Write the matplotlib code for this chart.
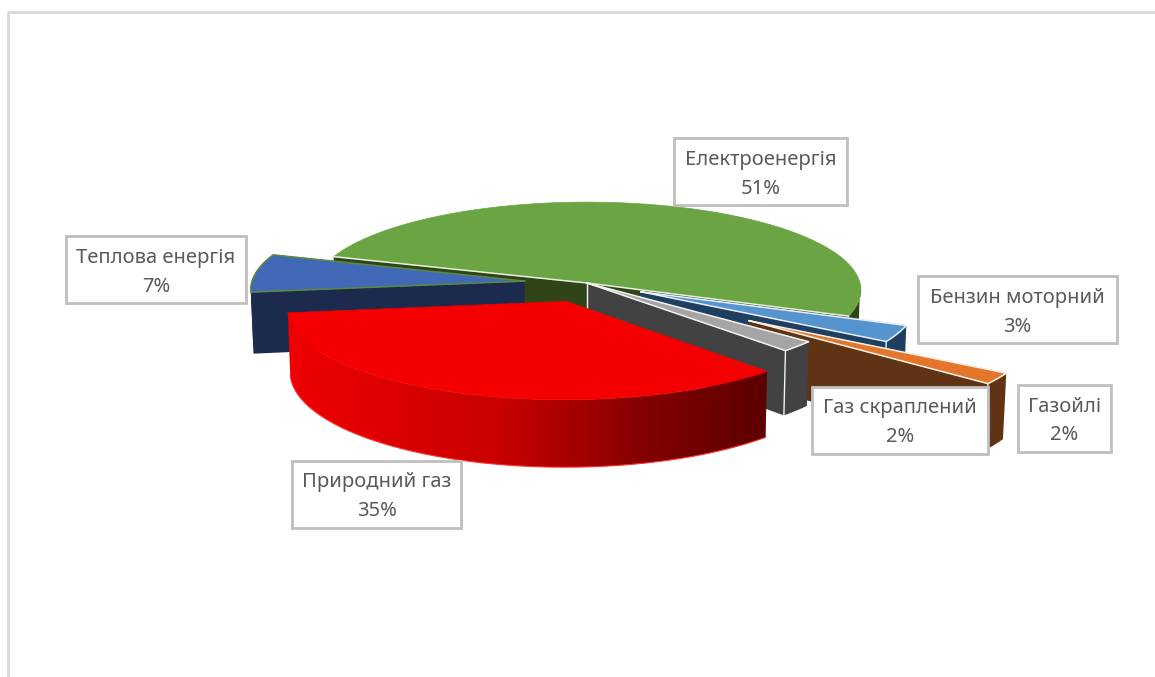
import numpy as np
import matplotlib
matplotlib.use("Agg")
import matplotlib.pyplot as plt
from matplotlib.colors import LinearSegmentedColormap
from matplotlib.patches import Polygon, Rectangle

# energy consumption shares, clockwise from the left of the pie
categories = ["Електроенергія", "Бензин моторний", "Газойлі", "Газ скраплений", "Природний газ", "Теплова енергія"]
shares = [51, 3, 2, 2, 35, 7]

# how far each slice is pulled out of the pie, as a fraction of the radius
explode = [0.0, 0.22, 0.71, 0.0, 0.22, 0.23]

top_colors = ["#6BA543", "#5594CE", "#E3762B", "#A5A5A5", "#F50000", "#4169B8"]
wall_colors = ["#2F4518", "#1F3F60", "#5F3314", "#424242", "#E00000", "#1B2A4D"]
edge_colors = ["#E8EDE2", "#E8EEF5", "#F5F0E8", "#F2F2F2", None, "#5B8A3C"]

# painter's order, the natural gas slice sits in front of everything
layer = [0, 2, 3, 4, 5, 1]

# boxes are x0, y0, x1, y1 in pixels
label_boxes = [(674, 138, 847, 205), (918, 276, 1117, 343), (1018, 385, 1111, 452),
               (812, 387, 988, 454), (292, 461, 461, 528), (66, 236, 246, 303)]

CX, CY = 587, 283
R = 273
TILT = 0.32
PERSP = 0.08
DEPTH = 61
START = 162

plt.rcParams["font.family"] = "Noto Sans"

red_map = LinearSegmentedColormap.from_list(
    "red_wall", [(0, "#EE0000"), (0.45, "#C80000"), (0.75, "#820000"), (1, "#5C0000")])


def project(x, y, z=0.0):
    s = 1 / (1 + PERSP * y / R)
    return CX + x * s * (1 - 0.00013 * z), CY - y * TILT * s + z * s


fig = plt.figure(figsize=(11.55, 6.77), dpi=100)
ax = fig.add_axes([0, 0, 1, 1])

# chart area border, only top and left are in frame
ax.plot([8, 8, 1155], [677, 12, 12], color="#D9D9D9", lw=2)

angle = START
for i, share in enumerate(shares):
    th1 = angle
    th2 = angle - share * 3.6
    angle = th2
    z = 2 + layer[i]

    mid = np.radians((th1 + th2) / 2)
    ox = explode[i] * R * np.cos(mid)
    oy = explode[i] * R * np.sin(mid)
    thetas = np.radians(np.linspace(th1, th2, 200))
    xs = ox + R * np.cos(thetas)
    ys = oy + R * np.sin(thetas)
    edge = edge_colors[i]

    # flat cut faces that look towards the viewer
    for th, normal in ((th1, th1 + 90), (th2, th2 - 90)):
        if np.sin(np.radians(normal)) < 0:
            ex = ox + R * np.cos(np.radians(th))
            ey = oy + R * np.sin(np.radians(th))
            pts = [project(ox, oy), project(ex, ey), project(ex, ey, DEPTH), project(ox, oy, DEPTH)]
            ax.add_patch(Polygon(pts, closed=True, fc=wall_colors[i], ec="none", zorder=z))

    # outer rim, only the front half shows
    front = np.sin(thetas) <= 0
    upper = [project(x, y) for x, y in zip(xs[front], ys[front])]
    lower = [project(x, y, DEPTH) for x, y in zip(xs[front], ys[front])]
    rim = upper + lower[::-1]
    if i == 4:
        # gas wall darkens from left to right
        rim_patch = Polygon(rim, closed=True, fc="none", ec="none", transform=ax.transData)
        ax.add_patch(rim_patch)
        px = [p[0] for p in rim]
        py = [p[1] for p in rim]
        img = ax.imshow(np.linspace(0, 1, 256).reshape(1, -1), cmap=red_map, aspect="auto",
                        extent=(min(px), max(px), max(py), min(py)), zorder=z)
        img.set_clip_path(rim_patch)
    elif rim:
        ax.add_patch(Polygon(rim, closed=True, fc=wall_colors[i], ec="none", zorder=z))

    # top face
    top = [project(ox, oy)] + [project(x, y) for x, y in zip(xs, ys)]
    ax.add_patch(Polygon(top, closed=True, fc=top_colors[i], ec=top_colors[i], lw=0.5, zorder=z + 0.5))

    if edge is not None:
        if i == 0:
            # the green slice has no outline along its arc
            line = [top[1], top[0], top[-1]]
        else:
            line = top + [top[0]]
        lx, ly = zip(*line)
        ax.plot(lx, ly, color=edge, lw=1.1, zorder=z + 0.6, solid_joinstyle="round")
        if i in (1, 2, 3):
            cx0, cy0 = project(xs[-1], ys[-1])
            cx1, cy1 = project(xs[-1], ys[-1], DEPTH)
            ax.plot([cx0, cx1], [cy0, cy1], color=edge, lw=1.0, zorder=z + 0.6)
        if i == 3:
            # left edge of the cut face at the pie centre
            cx0, cy0 = project(ox, oy)
            cx1, cy1 = project(ox, oy, DEPTH)
            ax.plot([cx0, cx1], [cy0, cy1], color=edge, lw=1.0, zorder=z + 0.6)
    if i == 4:
        bx, by = zip(*[project(x, y, DEPTH) for x, y in zip(xs, ys)])
        ax.plot(bx, by, color="#FF3030", lw=0.8, zorder=z + 0.6)

# data labels
for name, share, box in zip(categories, shares, label_boxes):
    x0, y0, x1, y1 = box
    ax.add_patch(Rectangle((x0, y0), x1 - x0, y1 - y0, fc="white", ec="#BFBFBF", lw=2, zorder=20))
    xc = (x0 + x1) / 2
    ax.text(xc, y0 + 21.5, name, ha="center", va="center", fontsize=14.5, color="#595959", zorder=21)
    ax.text(xc, y0 + 50.5, str(share) + "%", ha="center", va="center", fontsize=14.5, color="#595959", zorder=21)

ax.set_xlim(0, 1155)
ax.set_ylim(677, 0)
ax.axis("off")

fig.savefig("out.png", dpi=100)
